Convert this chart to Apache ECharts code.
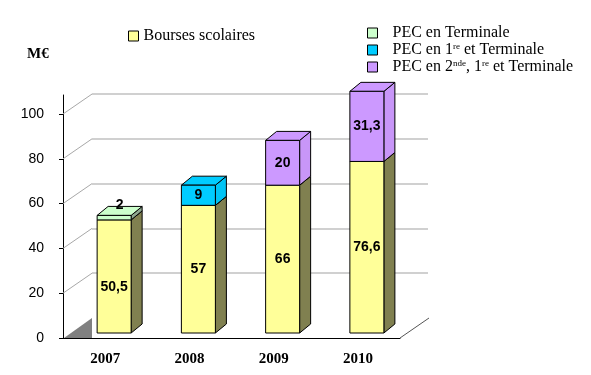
<!DOCTYPE html>
<html>
<head>
<meta charset="utf-8">
<script src="https://cdn.jsdelivr.net/npm/echarts@6/dist/echarts.min.js"></script>
<style>
  html, body { margin: 0; padding: 0; background: #fff; }
  #chart { width: 591px; height: 375px; }
</style>
</head>
<body>
<div id="chart"></div>
<script>
const years = ['2007', '2008', '2009', '2010'];
const bourses = [50.5, 57, 66, 76.6];
const pecTerminale = [2, null, null, null];
const pec1re = [null, 9, null, null];
const pec2nde = [null, null, 20, 31.3];
const yTicks = [0, 20, 40, 60, 80, 100];

const Y_MAX = 108.5;
const WALL_DX = 29, WALL_DY = -20;   // depth of the back wall
const BAR_DX = 11, BAR_DY = -9;      // depth of each bar
const BAR_SHIFT = 9, BAR_LIFT = 5, BAR_W = 34;

const serif = '"Liberation Serif", "Times New Roman", serif';
const sans = '"Liberation Sans", Arial, sans-serif';

const stackList = [bourses, pecTerminale, pec1re, pec2nde];
const fmt = v => String(v).replace('.', ',');

function bases(k) {
  return years.map((_, i) => {
    let s = 0;
    for (let j = 0; j < k; j++) s += stackList[j][i] || 0;
    return s;
  });
}

function barSeries(name, k, color, side) {
  const b = bases(k);
  return {
    name,
    type: 'custom',
    xAxisIndex: 0,
    yAxisIndex: 0,
    itemStyle: { color },
    encode: { x: 0, y: [1, 2] },
    data: stackList[k].map((v, i) => [i, b[i], v == null ? 0 : v]),
    renderItem: (params, api) => {
      const v = api.value(2);
      if (!v) return;
      const i = api.value(0);
      const base = api.value(1);
      const p0 = api.coord([i, base]);
      const p1 = api.coord([i, base + v]);
      const x0 = p0[0] + BAR_SHIFT - BAR_W / 2;
      const x1 = x0 + BAR_W;
      const yb = p0[1] - BAR_LIFT;
      const yt = p1[1] - BAR_LIFT;
      const line = { stroke: '#000', lineWidth: 1 };
      // tiny segments get their label above the bar
      let lx = (x0 + x1) / 2, ly = (yb + yt) / 2;
      if (v < 5) { lx += BAR_DX / 2; ly = yt + BAR_DY - 1; }
      else if (k === 0) {
        const above = stackList[1][i];
        if (above != null && above < 5) ly += 11;
      }
      return {
        type: 'group',
        children: [
          {
            type: 'polygon',
            shape: { points: [[x1, yb], [x1 + BAR_DX, yb + BAR_DY], [x1 + BAR_DX, yt + BAR_DY], [x1, yt]] },
            style: Object.assign({ fill: side }, line)
          },
          {
            type: 'polygon',
            shape: { points: [[x0, yt], [x1, yt], [x1 + BAR_DX, yt + BAR_DY], [x0 + BAR_DX, yt + BAR_DY]] },
            style: Object.assign({ fill: color }, line)
          },
          {
            type: 'rect',
            shape: { x: x0, y: yt, width: BAR_W, height: yb - yt },
            style: Object.assign({ fill: color }, line)
          },
          {
            type: 'text',
            x: lx,
            y: ly,
            style: {
              text: fmt(v),
              font: 'bold 14px ' + sans,
              fill: '#000',
              align: 'center',
              verticalAlign: 'middle'
            }
          }
        ]
      };
    }
  };
}

const chart = echarts.init(document.getElementById('chart'));

const richLegend = {
  n: { fontFamily: serif, fontSize: 16, lineHeight: 16, color: '#000' },
  s: { fontFamily: serif, fontSize: 9, lineHeight: 16, color: '#000', verticalAlign: 'top', padding: [0, 0, 7, 0] }
};

chart.setOption({
  animation: false,
  backgroundColor: '#fff',
  title: {
    text: 'M€',
    left: 22,
    top: 42,
    textStyle: { fontFamily: serif, fontSize: 15, fontWeight: 'bold', color: '#000' }
  },
  legend: [
    {
      data: ['Bourses scolaires'],
      left: 123,
      top: 23,
      icon: 'rect',
      itemWidth: 10,
      itemHeight: 10,
      itemStyle: { borderColor: '#000', borderWidth: 1 },
      textStyle: { fontFamily: serif, fontSize: 16, color: '#000' }
    },
    {
      data: ['PEC en Terminale', 'PEC en 1re et Terminale', 'PEC en 2nde, 1re et Terminale'],
      orient: 'vertical',
      left: 362,
      top: 20,
      itemGap: 1,
      icon: 'rect',
      itemWidth: 10,
      itemHeight: 10,
      itemStyle: { borderColor: '#000', borderWidth: 1 },
      textStyle: { fontFamily: serif, fontSize: 16, color: '#000', padding: [0, 0, 0, 10], rich: richLegend },
      formatter: name => {
        if (name === 'PEC en 1re et Terminale') return '{n|PEC en 1}{s|re}{n| et Terminale}';
        if (name === 'PEC en 2nde, 1re et Terminale') return '{n|PEC en 2}{s|nde}{n|, 1}{s|re}{n| et Terminale}';
        return '{n|' + name + '}';
      }
    }
  ],
  grid: [
    { left: 63, top: 95, width: 337, height: 243 },
    { left: 92, top: 75, width: 336, height: 243 }
  ],
  xAxis: [
    {
      type: 'category',
      gridIndex: 0,
      data: years,
      axisLine: { lineStyle: { color: '#000', width: 1 } },
      axisTick: { length: 5, lineStyle: { color: '#000' } },
      axisLabel: { margin: 14, fontFamily: serif, fontSize: 15, fontWeight: 'bold', color: '#000' }
    },
    { type: 'category', gridIndex: 1, data: years, show: false }
  ],
  yAxis: [
    {
      type: 'value',
      gridIndex: 0,
      min: 0,
      max: Y_MAX,
      interval: 20,
      axisLine: { show: true, lineStyle: { color: '#000', width: 1 } },
      axisTick: { show: true, length: 4, lineStyle: { color: '#000' } },
      axisLabel: { showMaxLabel: false, margin: 19, fontFamily: sans, fontSize: 14, color: '#000' },
      splitLine: { show: false }
    },
    {
      type: 'value',
      gridIndex: 1,
      min: 0,
      max: Y_MAX,
      interval: 20,
      axisLine: { show: false },
      axisTick: { show: false },
      axisLabel: { show: false },
      splitLine: { show: true, showMinLine: false, showMaxLine: false, lineStyle: { color: '#C0C0C0', width: 1.5 } }
    }
  ],
  series: [
    {
      type: 'custom',
      name: 'walls',
      xAxisIndex: 0,
      yAxisIndex: 0,
      silent: true,
      data: yTicks.map(v => [0, v]),
      encode: { x: 0, y: 1 },
      renderItem: (params, api) => {
        const cs = params.coordSys;
        const v = api.value(1);
        const y = api.coord([0, v])[1];
        if (v === 0) {
          return {
            type: 'group',
            children: [
              {
                type: 'polygon',
                shape: { points: [[cs.x + 1, y], [cs.x + WALL_DX, y + WALL_DY], [cs.x + WALL_DX, y]] },
                style: { fill: '#808080' }
              },
              {
                type: 'line',
                shape: { x1: cs.x + cs.width, y1: y, x2: cs.x + cs.width + WALL_DX, y2: y + WALL_DY },
                style: { stroke: '#555', lineWidth: 1 }
              }
            ]
          };
        }
        return {
          type: 'line',
          shape: { x1: cs.x, y1: y, x2: cs.x + WALL_DX, y2: y + WALL_DY },
          style: { stroke: '#A8A8A8', lineWidth: 1 }
        };
      }
    },
    barSeries('Bourses scolaires', 0, '#FFFF99', '#808050'),
    barSeries('PEC en Terminale', 1, '#CCFFCC', '#8FA88F'),
    barSeries('PEC en 1re et Terminale', 2, '#00CCFF', '#00C4F5'),
    barSeries('PEC en 2nde, 1re et Terminale', 3, '#CC99FF', '#C896F8')
  ]
});
</script>
</body>
</html>
